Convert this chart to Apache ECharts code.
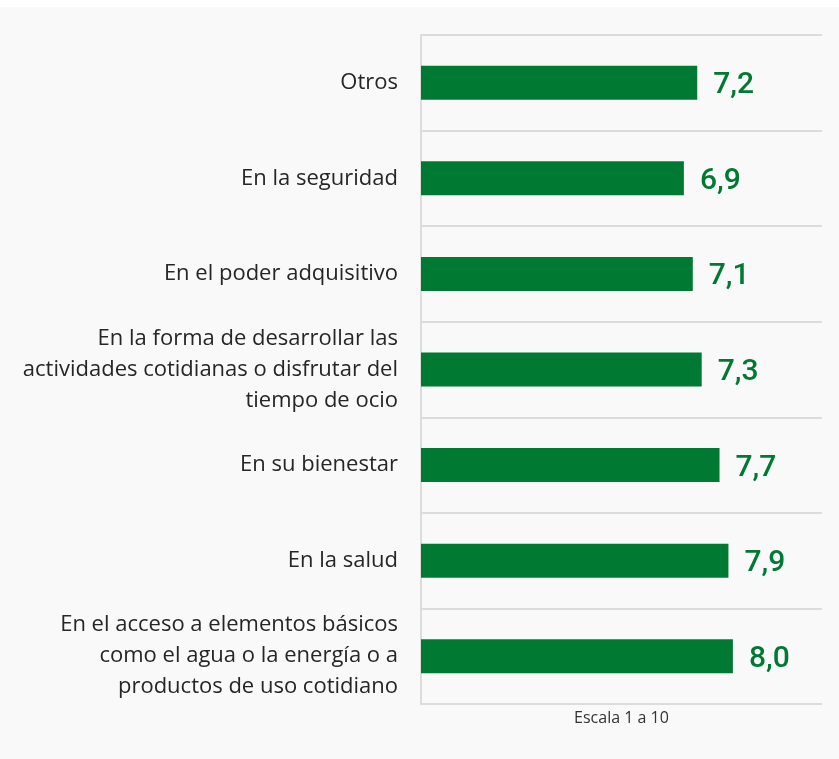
<!DOCTYPE html>
<html>
<head>
<meta charset="utf-8">
<script src="https://cdn.jsdelivr.net/npm/echarts@6/dist/echarts.min.js"></script>
<style>
  html, body { margin: 0; padding: 0; background: #ffffff; }
  #chart { position: absolute; left: 0; top: 7px; width: 839px; height: 752px; background: #f9f9f9; }
</style>
</head>
<body>
<div id="chart"></div>
<script>
const categories = [
  'Otros',
  'En la seguridad',
  'En el poder adquisitivo',
  'En la forma de desarrollar las\nactividades cotidianas o disfrutar del\ntiempo de ocio',
  'En su bienestar',
  'En la salud',
  'En el acceso a elementos básicos\ncomo el agua o la energía o a\nproductos de uso cotidiano'
]
const values = [7.2, 6.9, 7.1, 7.3, 7.7, 7.9, 8.0]
const axisName = 'Escala 1 a 10'

const chart = echarts.init(document.getElementById('chart'))
chart.setOption({
  animation: false,
  grid: { left: 421, right: 17, top: 28, bottom: 55 },
  xAxis: {
    type: 'value',
    min: 1,
    max: 10,
    name: axisName,
    nameLocation: 'middle',
    nameGap: 6,
    nameTextStyle: { color: '#333', fontSize: 16, fontFamily: 'Open Sans', verticalAlign: 'top' },
    axisLine: { show: false },
    axisTick: { show: false },
    axisLabel: { show: false },
    splitLine: { show: false }
  },
  yAxis: {
    type: 'category',
    inverse: true,
    data: categories,
    axisLine: { show: true, lineStyle: { color: '#dcdcdc', width: 2 } },
    axisTick: { show: false },
    axisLabel: {
      color: '#262626',
      fontSize: 22,
      fontFamily: 'Open Sans',
      lineHeight: 31,
      margin: 23,
      align: 'right'
    },
    splitLine: { show: true, lineStyle: { color: '#dcdcdc', width: 2 } }
  },
  series: [
    {
      type: 'bar',
      data: values,
      barWidth: 34,
      itemStyle: { color: '#007a33' },
      label: {
        show: true,
        position: 'right',
        distance: 16,
        offset: [0, 3],
        color: '#007a33',
        fontSize: 30,
        fontWeight: 500,
        fontFamily: 'Roboto',
        formatter: p => p.value.toFixed(1).replace('.', ',')
      }
    }
  ]
})
</script>
</body>
</html>
